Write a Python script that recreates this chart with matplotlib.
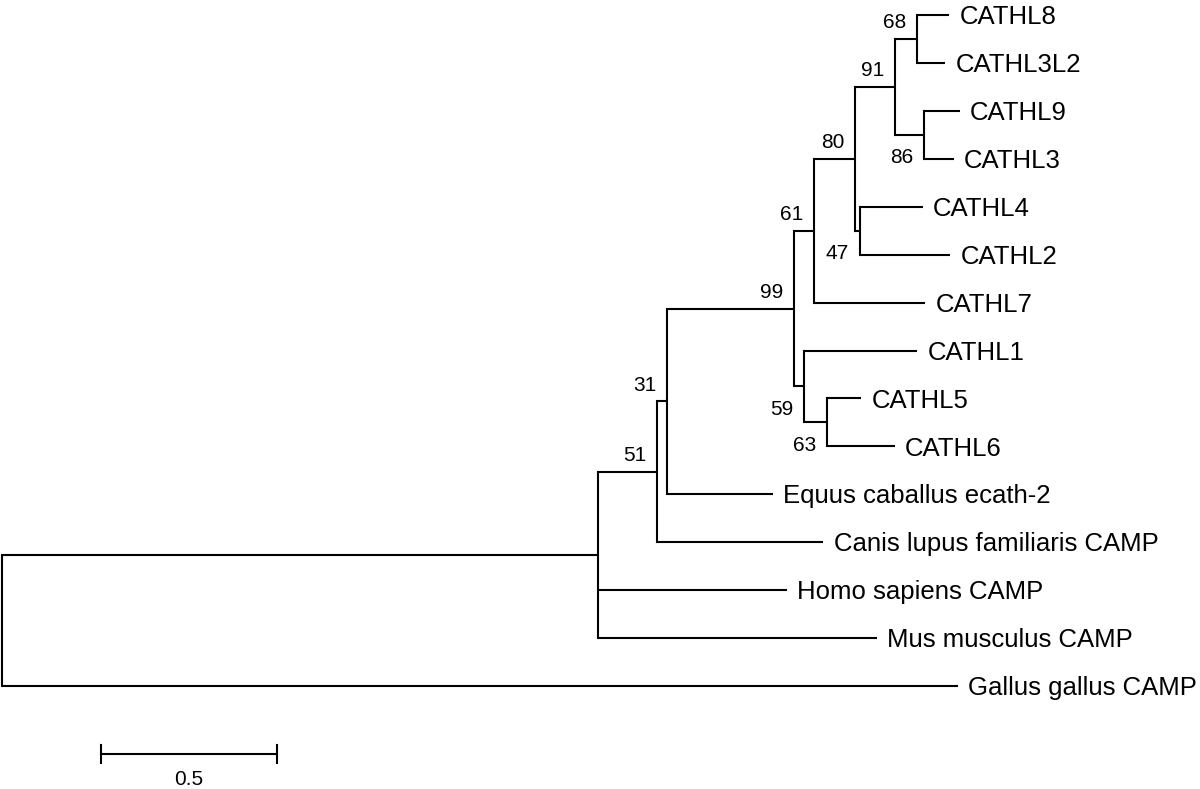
import matplotlib.pyplot as plt

plt.rcParams['font.family'] = ['Liberation Sans', 'DejaVu Sans']

# tree as parallel lists: each node, its parent, branch length, bootstrap support
node = ["A", "Gallus gallus CAMP",
        "B", "Homo sapiens CAMP", "Mus musculus CAMP",
        "C", "Canis lupus familiaris CAMP",
        "D", "Equus caballus ecath-2",
        "E", "F",
        "G", "CATHL7",
        "H", "I",
        "J", "K",
        "CATHL8", "CATHL3L2",
        "CATHL9", "CATHL3",
        "CATHL4", "CATHL2",
        "CATHL1", "L",
        "CATHL5", "CATHL6"]
parent = ["root", "root",
          "A", "A", "A",
          "B", "B",
          "C", "C",
          "D", "D",
          "E", "E",
          "G", "G",
          "H", "H",
          "J", "J",
          "K", "K",
          "I", "I",
          "F", "F",
          "L", "L"]
length = [1.693, 2.716,
          0.168, 0.537, 0.793,
          0.028, 0.472,
          0.361, 0.301,
          0.057, 0.028,
          0.116, 0.315,
          0.114, 0.014,
          0.063, 0.082,
          0.091, 0.080,
          0.102, 0.085,
          0.179, 0.256,
          0.321, 0.065,
          0.097, 0.193]
support = [None, None,
           51, None, None,
           31, None,
           99, None,
           61, 59,
           80, None,
           91, 47,
           68, 86,
           None, None,
           None, None,
           None, None,
           None, 63,
           None, None]

scale_len = 0.5

children = {}
for n, p in zip(node, parent):
    children.setdefault(p, []).append(n)
blen = dict(zip(node, length))
boot = dict(zip(node, support))

# x positions (depth) and y positions (leaf order)
xpos = {"root": 0.0}
ypos = {}
leaf_count = [0]


def layout(n):
    for c in children.get(n, []):
        xpos[c] = xpos[n] + blen[c]
        layout(c)
    if n in children:
        kids = children[n]
        ypos[n] = (ypos[kids[0]] + ypos[kids[-1]]) / 2
    else:
        ypos[n] = leaf_count[0]
        leaf_count[0] += 1


layout("root")

fig = plt.figure(figsize=(12, 7.89), dpi=100)
ax = fig.add_axes([0, 0, 1, 1])
px = 352.0
ax.set_xlim(-2 / px, (1200 - 2) / px)
ax.set_ylim((789 - 15) / 47.93, -15 / 47.93)
ax.axis('off')

lw = 1.5
for n, kids in children.items():
    # vertical connector
    ax.plot([xpos[n], xpos[n]], [ypos[kids[0]], ypos[kids[-1]]],
            color='black', lw=lw, solid_capstyle='projecting')
    for i, c in enumerate(kids):
        ax.plot([xpos[n], xpos[c]], [ypos[c], ypos[c]],
                color='black', lw=lw, solid_capstyle='butt')
        if c not in children:
            ax.annotate(c, (xpos[c], ypos[c]), xytext=(7.5, -6.6),
                        textcoords='offset points', ha='left', va='baseline',
                        fontsize=18.5)
        elif boot[c] is not None:
            dy = 7.6 if i == 0 else -20.5
            ax.annotate(str(boot[c]), (xpos[c], ypos[c]), xytext=(-16, dy),
                        textcoords='offset points', ha='center', va='baseline',
                        fontsize=15)

# scale bar
bar_x0 = 99 / px
bar_y = (754 - 15) / 47.93
tick_h = 9 / 47.93
ax.plot([bar_x0, bar_x0 + scale_len], [bar_y, bar_y], color='black', lw=lw)
for xb in (bar_x0, bar_x0 + scale_len):
    ax.plot([xb, xb], [bar_y - tick_h, bar_y + tick_h], color='black', lw=lw)
ax.annotate(str(scale_len), (bar_x0 + scale_len / 2, bar_y), xytext=(0, -22.5),
            textcoords='offset points', ha='center', va='baseline', fontsize=15)

fig.savefig('out.png', dpi=100)
